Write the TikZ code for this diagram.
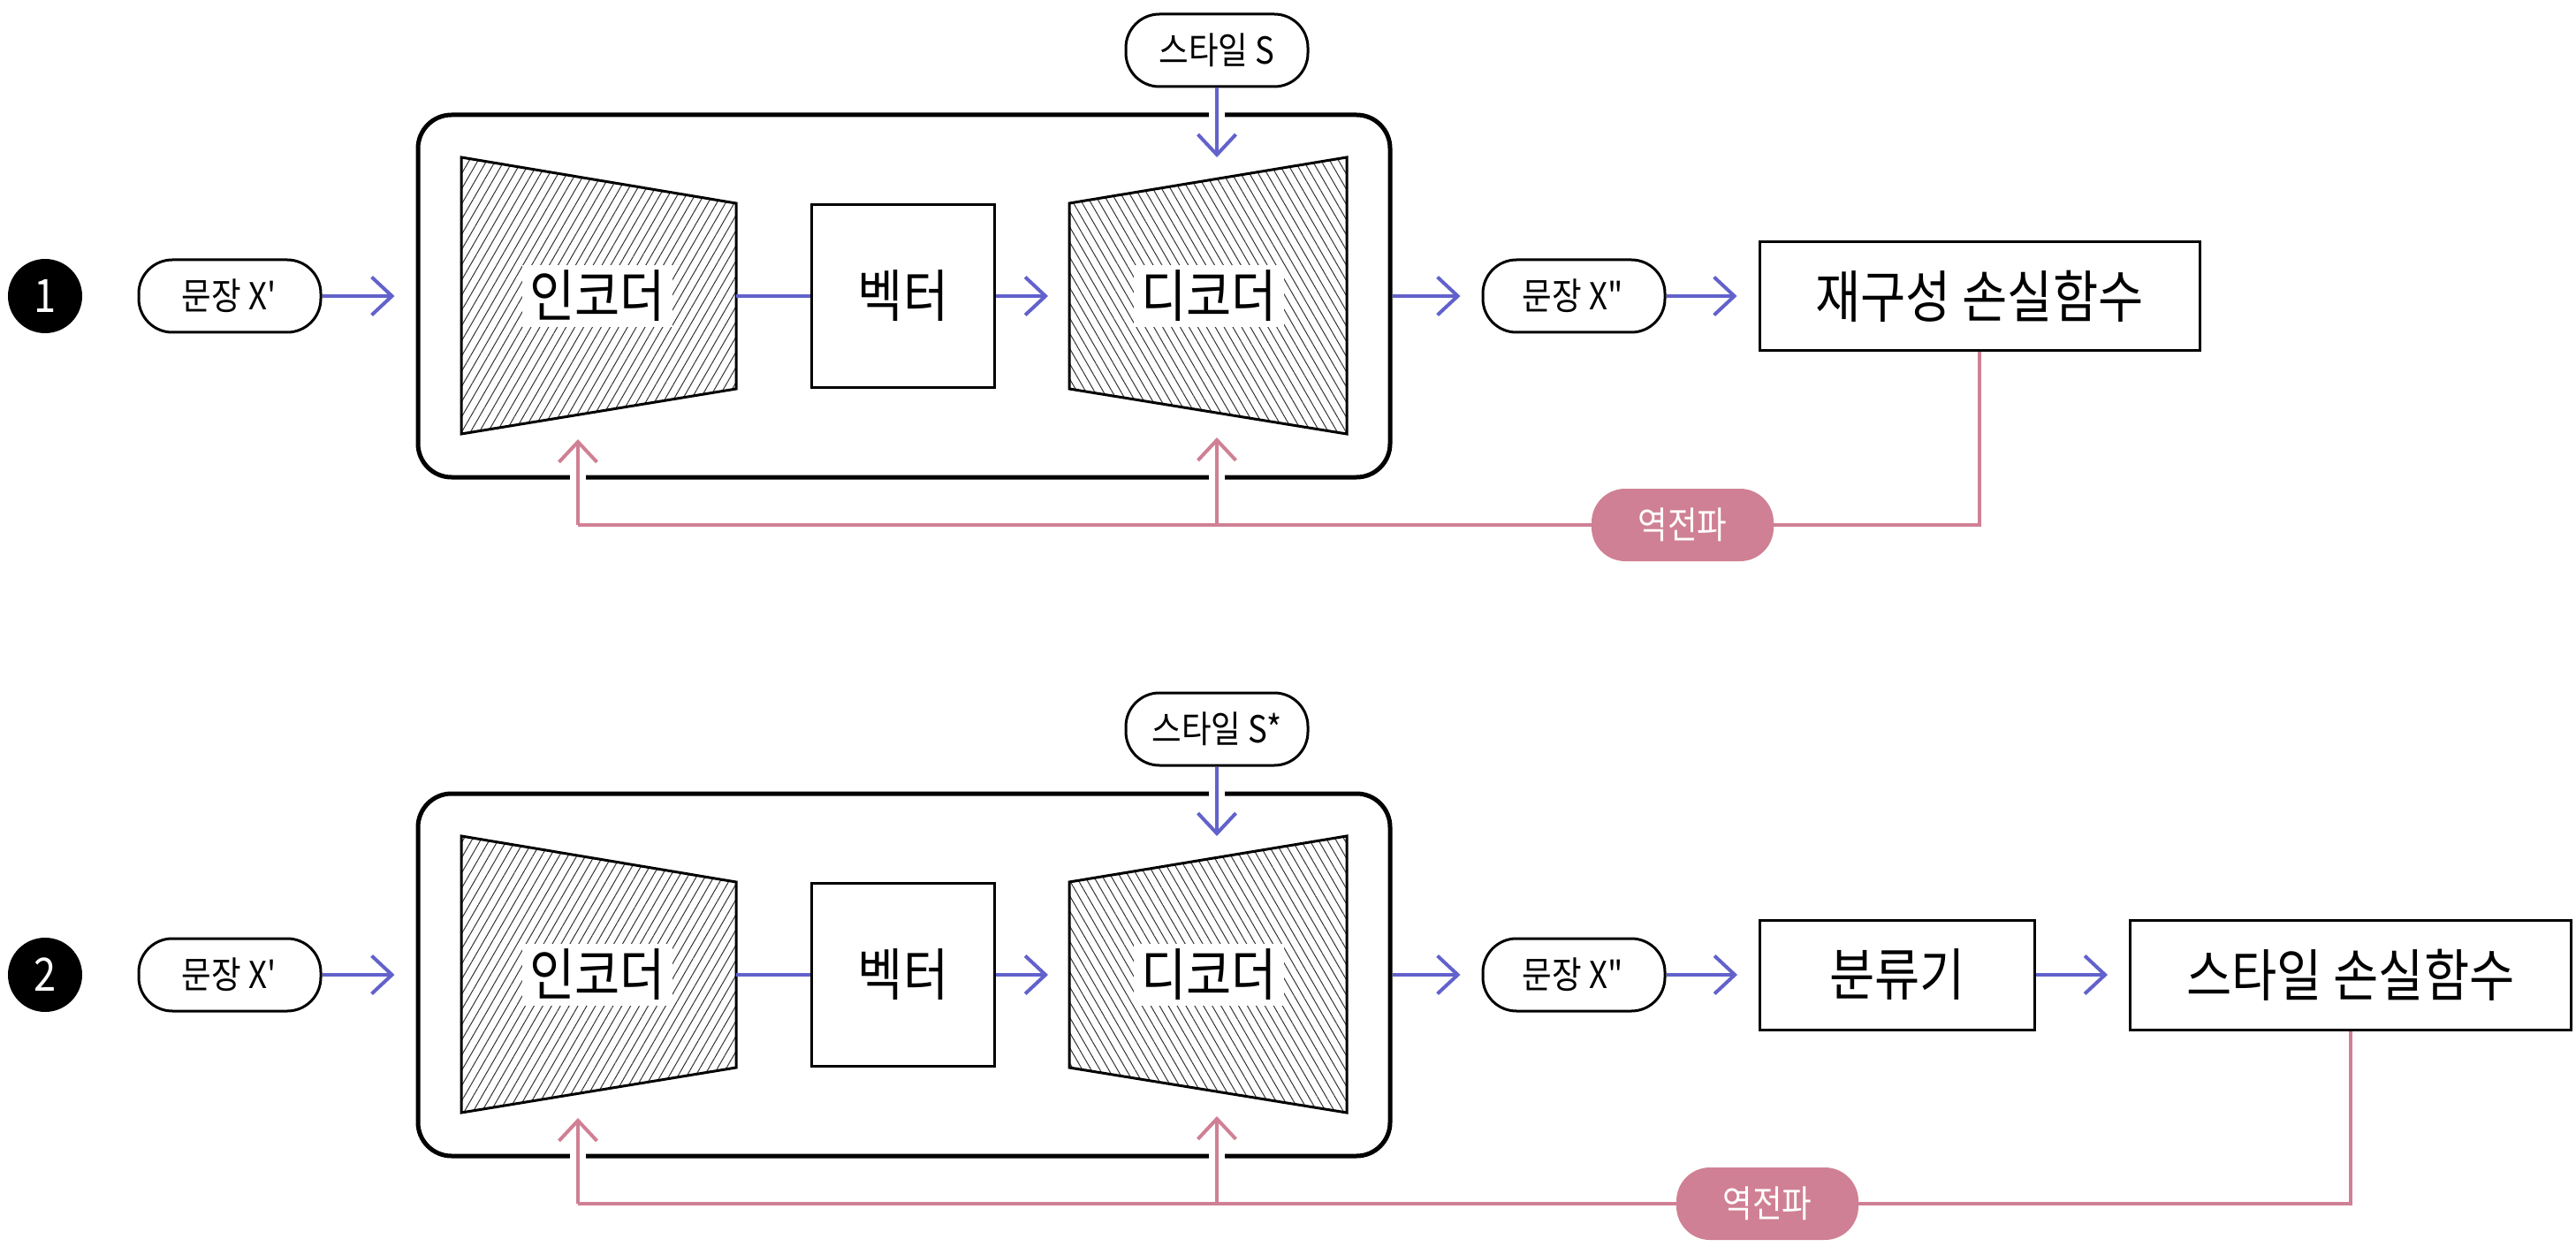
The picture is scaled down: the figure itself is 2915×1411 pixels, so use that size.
\documentclass[tikz,border=0pt]{standalone}
\usepackage{fontspec}
\setmainfont{Noto Sans CJK KR}[FakeStretch=0.87]
\usetikzlibrary{arrows.meta}
\usetikzlibrary{patterns.meta}
\definecolor{flowblue}{RGB}{98,98,204}
\definecolor{backpink}{RGB}{208,128,148}

\begin{document}
\begin{tikzpicture}[x=0.5pt, y=-0.5pt,
  pill/.style={draw, line width=1.5pt, rounded corners=19pt, fill=white, minimum width=103pt, minimum height=41pt, inner sep=0pt, font=\fontsize{21}{25}\selectfont},
  bpill/.style={pill, draw=none, fill=backpink, text=white},
  bigtxt/.style={font=\fontsize{32}{38}\selectfont},
  blk/.style={draw, line width=1.5pt, inner sep=0pt, bigtxt},
  lbl/.style={fill=white, inner xsep=4pt, inner ysep=3pt, bigtxt},
  frame/.style={draw, line width=2.5pt, rounded corners=19pt, minimum width=550pt, minimum height=205pt},
  numdot/.style={circle, fill=black, text=white, minimum size=42pt, inner sep=0pt, font=\fontsize{26}{30}\selectfont},
  link/.style={flowblue, line width=2pt},
  flow/.style={link, -{Straight Barb[length=11.5pt, width=21.5pt]}, shorten >=12pt},
  back/.style={backpink, line width=2pt},
  backup/.style={back, -{Straight Barb[length=11.5pt, width=21.5pt]}, shorten >=14pt},
  gap/.style={white, line width=9pt},
  enchatch/.style={draw, line width=1.5pt, pattern={Lines[angle=60, distance=4.3pt, line width=0.5pt]}, pattern color=black!80},
  dechatch/.style={draw, line width=1.5pt, pattern={Lines[angle=-60, distance=4.3pt, line width=0.5pt]}, pattern color=black!80}
]
\useasboundingbox (0,0) rectangle (2915,1411);

% the two rows share the autoencoder part
\foreach \r/\dy/\sty in {1/0/S, 2/768/S*} {
\begin{scope}[shift={(0,\dy)}]
  \node[numdot] (num\r) at (51,335) {\r};
  \node[pill] (in\r) at (260,335) {문장 X\textquotesingle};
  \node[frame] (box\r) at (1023,335) {};
  \draw[enchatch] (522,178) -- (833,230) -- (833,440) -- (522,491) -- cycle;
  \node[lbl] (enc\r) at (676,335) {인코더};
  \coordinate (encR\r) at (833,335);
  \coordinate (encB\r) at (654,469);
  \node[blk, minimum size=103.5pt] (vec\r) at (1022,335) {벡터};
  \draw[dechatch] (1210,230) -- (1524,178) -- (1524,491) -- (1210,440) -- cycle;
  \node[lbl] (dec\r) at (1368,335) {디코더};
  \coordinate (decL\r) at (1210,335);
  \coordinate (decT\r) at (1377,202);
  \coordinate (decB\r) at (1377,467);
  \node[pill] (sty\r) at (1377,57) {스타일 \sty};
  \node[pill] (out\r) at (1781,335) {문장 X\textquotedbl};
  \draw[flow] (in\r) -- (box\r.west);
  \draw[link] (encR\r) -- (vec\r);
  \draw[flow] (vec\r) -- (decL\r);
  \draw[flow] (box\r.east) -- (out\r);
  \draw[gap] (1377,123) -- (1377,137);
  \draw[flow] (sty\r) -- (decT\r);
  % backprop arrows into encoder and decoder
  \coordinate (fbk\r) at (654,594);
  \foreach \gx in {654,1377}
    \draw[gap] (\gx,533) -- (\gx,547);
  \draw[backup] (fbk\r) -- (encB\r);
  \draw[back] (fbk\r) -- (decB\r |- fbk\r);
  \draw[backup] (decB\r |- fbk\r) -- (decB\r);
\end{scope}
}

% row 1: reconstruction
\node[blk, minimum width=249pt, minimum height=61.5pt] (loss1) at (2240,335) {재구성 손실함수};
\draw[flow] (out1) -- (loss1);
\draw[back] (loss1.south) |- (fbk1);
\node[bpill] (bp1) at (1904,594) {역전파};

% row 2: style classifier
\node[blk, minimum width=155.5pt, minimum height=62pt] (cls) at (2147,1103) {분류기};
\node[blk, minimum width=249.5pt, minimum height=62pt] (loss2) at (2660,1103) {스타일 손실함수};
\draw[flow] (out2) -- (cls);
\draw[flow] (cls) -- (loss2);
\draw[back] (loss2.south) |- (fbk2);
\node[bpill] (bp2) at (2000,1362) {역전파};
\end{tikzpicture}
\end{document}
